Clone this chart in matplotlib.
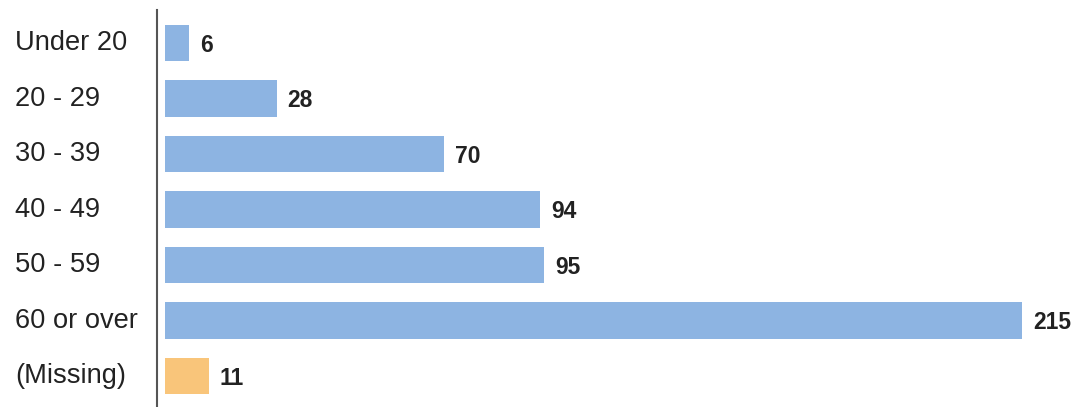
import matplotlib
matplotlib.use("Agg")
import matplotlib.pyplot as plt
from matplotlib.transforms import blended_transform_factory

categories = ["Under 20", "20 - 29", "30 - 39", "40 - 49", "50 - 59", "60 or over", "(Missing)"]
values = [6, 28, 70, 94, 95, 215, 11]
colors = ["#8db4e2"] * 6 + ["#f9c57a"]

plt.rcParams['font.family'] = ['Liberation Sans', 'DejaVu Sans']

W, H, DPI = 1078, 407, 100
fig = plt.figure(figsize=(W / DPI, H / DPI), dpi=DPI)
ax = fig.add_axes([165 / W, 0, 909 / W, 397 / H])

ypos = list(range(len(categories)))
ax.barh(ypos, values, height=0.65, color=colors)
ax.set_xlim(0, 228)
ax.set_ylim(6 + 31 / 55.5, -33 / 55.5)

for s in ["top", "right", "bottom"]:
    ax.spines[s].set_visible(False)
ax.spines["left"].set_position(("outward", 5.8))
ax.spines["left"].set_color("#555555")
ax.spines["left"].set_linewidth(1.5)
ax.set_xticks([])
ax.set_yticks([])

tr = blended_transform_factory(fig.transFigure, ax.transData)
for y, c in zip(ypos, categories):
    ax.text(15 / W, y, c, transform=tr, ha="left", va="center",
            fontsize=19.6, color="#222222")

for y, v in zip(ypos, values):
    ax.annotate(str(v), (v, y), xytext=(8, -1.5), textcoords="offset points",
                ha="left", va="center", fontsize=16.5, fontweight="bold",
                color="#222222")

fig.savefig("out.png", dpi=DPI)
